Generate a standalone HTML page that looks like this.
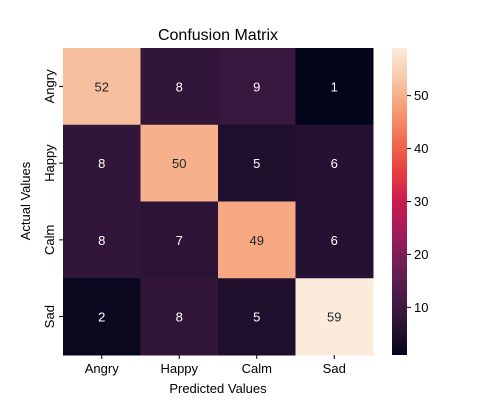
<!DOCTYPE html>
<html><head><meta charset="utf-8"><style>body{margin:0;background:#fff}svg{display:block}text{font-family:"Liberation Sans","DejaVu Sans",sans-serif}</style></head>
<body>
<svg id="chart" width="500" height="400" viewBox="0 0 500 400" xmlns="http://www.w3.org/2000/svg">
<defs><linearGradient id="cbg" x1="0" y1="1" x2="0" y2="0"></linearGradient></defs>
<text x="218" y="40" font-size="16" text-anchor="middle">Confusion Matrix</text>
<g id="cells"></g>
<g id="cbar"></g>
<text x="218" y="393" font-size="13" text-anchor="middle">Predicted Values</text>
<text transform="translate(30,201) rotate(-90)" font-size="13" text-anchor="middle">Actual Values</text>
</svg>
<script>
const categories = ["Angry","Happy","Calm","Sad"];
const row0 = [52,8,9,1];
const row1 = [8,50,5,6];
const row2 = [8,7,49,6];
const row3 = [2,8,5,59];
const rows = [row0,row1,row2,row3];
const cbTicks = [10,20,30,40,50];
const NS="http://www.w3.org/2000/svg";
const X0=63,X1=373,Y0=48,Y1=355;
const all=rows.flat();const vmin=Math.min(...all),vmax=Math.max(...all);
const stops=[[0,[3,5,26]],[0.1,[43,20,54]],[0.2,[76,29,75]],[0.3,[113,31,87]],[0.4,[161,26,91]],[0.5,[203,27,79]],[0.6,[232,63,63]],[0.7,[242,108,79]],[0.8,[246,156,115]],[0.9,[247,200,169]],[1,[250,235,221]]];
function cmap(t){t=Math.max(0,Math.min(1,t));for(let i=1;i<stops.length;i++){if(t<=stops[i][0]){const a=stops[i-1],b=stops[i];const f=(t-a[0])/(b[0]-a[0]);const c=a[1].map((v,k)=>Math.round(v+(b[1][k]-v)*f));return c;}}return stops[stops.length-1][1];}
function el(tag,attrs,parent){const e=document.createElementNS(NS,tag);for(const k in attrs)e.setAttribute(k,attrs[k]);parent.appendChild(e);return e;}
const g=document.getElementById('cells');
const n=categories.length,cw=(X1-X0)/n,ch=(Y1-Y0)/n;
rows.forEach((r,i)=>r.forEach((v,j)=>{
 const c=cmap((v-vmin)/(vmax-vmin));
 const rect=el('rect',{x:X0+j*cw,y:Y0+i*ch,width:cw+0.5,height:ch+0.5,fill:`rgb(${c})`},g);
 
 
 const lum=0.2126*c[0]+0.7152*c[1]+0.0722*c[2];
 const t=el('text',{x:X0+(j+0.5)*cw,y:Y0+(i+0.5)*ch+5,'font-size':13,'text-anchor':'middle',fill:lum>104?'#262626':'#fff'},g);
 
 
 t.textContent=v;
}));
categories.forEach((c,k)=>{
 const x=X0+(k+0.5)*cw;
 el('line',{x1:x,x2:x,y1:Y1,y2:Y1+4,stroke:'#000'},g);
 const t=el('text',{x:x,y:Y1+18,'font-size':13,'text-anchor':'middle'},g);
 
 
 t.textContent=c;
 const y=Y0+(k+0.5)*ch;
 el('line',{x1:X0-4,x2:X0,y1:y,y2:y,stroke:'#000'},g);
 const t2=el('text',{transform:`translate(${X0-9},${y}) rotate(-90)`,'font-size':13,'text-anchor':'middle'},g);
 
 
 t2.textContent=c;
});
const grad=document.getElementById('cbg');
for(let i=0;i<=20;i++){const c=cmap(i/20);el('stop',{offset:i/20,'stop-color':`rgb(${c})`},grad);}
const cb=document.getElementById('cbar');
const CX=392,CW=15;
const bar=el('rect',{x:CX,y:Y0,width:CW,height:Y1-Y0,fill:'url(#cbg)'},cb);


cbTicks.forEach(v=>{
 const y=Y1-(v-vmin)/(vmax-vmin)*(Y1-Y0);
 el('line',{x1:CX+CW,x2:CX+CW+4,y1:y,y2:y,stroke:'#000'},cb);
 const t=el('text',{x:CX+CW+7,y:y+4.5,'font-size':13},cb);
 
 
 t.textContent=v;
});
</script>
</body></html>
